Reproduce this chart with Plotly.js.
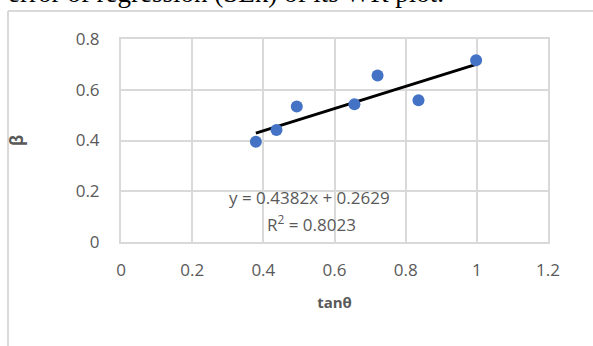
<!DOCTYPE html>
<html>
<head>
<meta charset="utf-8">
<script src="https://cdn.plot.ly/plotly-3.0.1.min.js"></script>
<style>
  html, body { margin: 0; padding: 0; background: #fff; }
  #wrap { position: relative; width: 593px; height: 346px; overflow: hidden; }
  #caption { position: absolute; left: 8px; top: -20px; font-family: "Liberation Serif", "DejaVu Serif", serif; font-size: 27px; line-height: 27px; color: #000; white-space: nowrap; }
  #chart { position: absolute; left: 0; top: 0; width: 593px; height: 346px; }
</style>
</head>
<body>
<div id="wrap">
  <div id="chart"></div>
  <div id="caption">error of regression (SEk) of its WR plot.</div>
</div>
<script>
// Data
const tanTheta = [0.379, 0.437, 0.494, 0.656, 0.721, 0.836, 0.998];
const beta     = [0.395, 0.441, 0.534, 0.543, 0.656, 0.559, 0.716];
// Trendline coefficients as printed on the chart
const slope = 0.4382;
const intercept = 0.2629;
const rSquared = 0.8023;
const xTicks = [0, 0.2, 0.4, 0.6, 0.8, 1, 1.2];
const xTickLabels = ["0", "0.2", "0.4", "0.6", "0.8", "1", "1.2"];
const yTicks = [0, 0.2, 0.4, 0.6, 0.8];
const yTickLabels = ["0", "0.2", "0.4", "0.6", "0.8"];

const xMin = Math.min(...tanTheta), xMax = Math.max(...tanTheta);
const trendX = [xMin, xMax];
const trendY = trendX.map(v => slope * v + intercept);

const font = "'Open Sans', 'Noto Sans', sans-serif";
const grey = "#595959";
const grid = "#d9d9d9";

const traces = [
  { x: trendX, y: trendY, mode: "lines", type: "scatter",
    line: { color: "#000000", width: 3 }, hoverinfo: "skip" },
  { x: tanTheta, y: beta, mode: "markers", type: "scatter",
    marker: { color: "#4472C4", size: 12 } }
];

const layout = {
  width: 593, height: 346,
  margin: { l: 121, r: 45, t: 39, b: 104 },
  paper_bgcolor: "#ffffff", plot_bgcolor: "#ffffff",
  showlegend: false,
  font: { family: font, color: grey, size: 17 },
  xaxis: {
    range: [0, 1.2], tickvals: xTicks, ticktext: xTickLabels,
    showgrid: true, gridcolor: grid, gridwidth: 2,
    zeroline: false, showline: true, linecolor: grid, linewidth: 2, mirror: true,
    ticks: "", ticklabelstandoff: 12,
    tickfont: { family: font, size: 17, color: grey },
    title: { text: "<b>tanθ</b>", font: { family: font, size: 15, color: grey }, standoff: 17 }
  },
  yaxis: {
    range: [0, 0.8], tickvals: yTicks, ticktext: yTickLabels,
    showgrid: true, gridcolor: grid, gridwidth: 2,
    zeroline: false, showline: true, linecolor: grid, linewidth: 2, mirror: true,
    ticks: "", ticklabelstandoff: 16,
    tickfont: { family: font, size: 17, color: grey },
    title: { text: "<b>β</b>", font: { family: font, size: 17, color: grey }, standoff: 48 }
  },
  annotations: [
    { xref: "x", yref: "y", x: 0.531, y: 0.177, showarrow: false,
      text: "y = " + slope + "x + " + intercept,
      font: { family: font, size: 17, color: grey } },
    { xref: "x", yref: "y", x: 0.534, y: 0.074, showarrow: false,
      text: "R<sup>2</sup> = " + rSquared,
      font: { family: font, size: 17, color: grey } }
  ],
  shapes: [
    { type: "line", xref: "paper", yref: "paper", layer: "below",
      x0: -113/427, x1: 472/427, y0: (346-104-11)/203, y1: (346-104-11)/203,
      line: { color: grid, width: 2 } },
    { type: "line", xref: "paper", yref: "paper", layer: "below",
      x0: -113/427, x1: -113/427, y0: -104/203, y1: (346-104-11)/203,
      line: { color: grid, width: 2 } }
  ]
};

Plotly.newPlot("chart", traces, layout, { displayModeBar: false, staticPlot: true });
</script>
</body>
</html>
